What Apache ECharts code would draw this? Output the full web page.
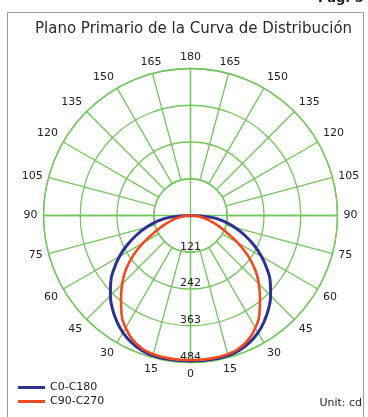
<!DOCTYPE html>
<html>
<head>
<meta charset="utf-8">
<script src="https://cdn.jsdelivr.net/npm/echarts@6/dist/echarts.min.js"></script>
<style>
  html, body { margin: 0; padding: 0; background: #ffffff; }
  #chart { width: 368px; height: 417px; }
</style>
</head>
<body>
<div id="chart"></div>
<script>
// Gamma angles (degrees from nadir) and luminous intensity in cd
const gammaAngles = [0, 5, 10, 15, 20, 25, 30, 35, 40, 45, 50, 55, 60, 65, 70, 75, 80, 85, 90];
const intensityC0C180 = [484, 484, 482, 478, 472, 461, 445, 424, 400, 373, 343, 308, 270, 230, 190, 150, 112, 70, 0];
const intensityC90C270 = [476, 476, 475, 473, 466, 451, 427, 396, 356, 318, 278, 231, 180, 130, 95, 66, 42, 20, 0];
const intensityTicks = [121, 242, 363, 484];
const seriesNames = ['C0-C180', 'C90-C270'];
const seriesColors = ['#2e3192', '#f04a1e'];

const GRID = '#72c65c';
const CENTER = [190.5, 215.5];
const RADIUS = 147;
const FONT = 'DejaVu Sans';

// Both half-planes of a C-plane pair: left half runs 90..0, right half 360-5..270
function halfPlanes(values) {
  const pts = [];
  for (let i = gammaAngles.length - 1; i >= 0; i--) pts.push([values[i], gammaAngles[i]]);
  for (let i = 1; i < gammaAngles.length; i++) pts.push([values[i], 360 - gammaAngles[i]]);
  return pts;
}

const step = intensityTicks[0];
const rMax = intensityTicks[intensityTicks.length - 1];
const innerRing = RADIUS * step / rMax;

const chart = echarts.init(document.getElementById('chart'), null, { renderer: 'canvas' });
chart.setOption({
  animation: false,
  backgroundColor: '#ffffff',
  textStyle: { fontFamily: FONT },
  title: {
    text: 'Plano Primario de la Curva de Distribución',
    left: 30,
    top: 17,
    textStyle: { fontFamily: FONT, fontSize: 15, fontWeight: 'normal', color: '#2a2a2a' }
  },
  polar: [
    { center: CENTER, radius: RADIUS },
    { center: CENTER, radius: [innerRing, RADIUS] }
  ],
  angleAxis: [
    {
      polarIndex: 0, type: 'value', min: 0, max: 360, interval: 90,
      startAngle: 270, clockwise: true,
      axisLine: { show: false }, axisTick: { show: false }, axisLabel: { show: false },
      splitLine: { show: true, lineStyle: { color: GRID, width: 1.3 } }
    },
    {
      polarIndex: 1, type: 'value', min: 0, max: 360, interval: 15,
      startAngle: 270, clockwise: true,
      axisLine: { show: true, lineStyle: { color: GRID, width: 1.3 } },
      axisTick: { show: false },
      axisLabel: {
        margin: 6, align: 'center', verticalAlign: 'middle',
        fontSize: 11, color: '#222222', fontFamily: FONT,
        formatter: v => (v >= 360 ? '' : String(v <= 180 ? v : 360 - v))
      },
      splitLine: { show: true, lineStyle: { color: GRID, width: 1.3 } }
    }
  ],
  radiusAxis: [
    {
      polarIndex: 0, type: 'value', min: 0, max: rMax, interval: step,
      axisLine: { show: false }, axisTick: { show: false },
      splitLine: { show: true, lineStyle: { color: GRID, width: 1.3 } },
      axisLabel: {
        margin: 0, align: 'center', verticalAlign: 'bottom',
        fontSize: 11, color: '#222222', fontFamily: FONT,
        formatter: v => (v === 0 ? '' : String(v))
      }
    },
    { polarIndex: 1, type: 'value', min: 0, max: rMax, show: false }
  ],
  legend: {
    data: seriesNames,
    orient: 'vertical',
    left: 13, top: 377,
    itemWidth: 27, itemHeight: 3, itemGap: 3,
    icon: 'rect',
    textStyle: { fontFamily: FONT, fontSize: 11, color: '#222222' }
  },
  series: [
    {
      name: seriesNames[0], type: 'line', coordinateSystem: 'polar', polarIndex: 0,
      data: halfPlanes(intensityC0C180), symbol: 'none', smooth: 0.5,
      itemStyle: { color: seriesColors[0] },
      lineStyle: { color: seriesColors[0], width: 3 }
    },
    {
      name: seriesNames[1], type: 'line', coordinateSystem: 'polar', polarIndex: 0,
      data: halfPlanes(intensityC90C270), symbol: 'none', smooth: 0.5,
      itemStyle: { color: seriesColors[1] },
      lineStyle: { color: seriesColors[1], width: 2.6 }
    }
  ],
  graphic: [
    {
      type: 'rect', silent: true, z: -1,
      shape: { x: 7.5, y: 12.5, width: 356, height: 420 },
      style: { fill: 'none', stroke: '#9a9a9a', lineWidth: 1 }
    },
    {
      type: 'text', silent: true,
      style: { x: 318, y: 5, text: 'Pag. 5', textAlign: 'left', textVerticalAlign: 'bottom',
               font: 'bold 13px "DejaVu Sans"', fill: '#222222' }
    },
    {
      type: 'text', silent: true,
      style: { x: 362, y: 403, text: 'Unit: cd', textAlign: 'right', textVerticalAlign: 'middle',
               font: '11px "DejaVu Sans"', fill: '#222222' }
    }
  ]
});
</script>
</body>
</html>
